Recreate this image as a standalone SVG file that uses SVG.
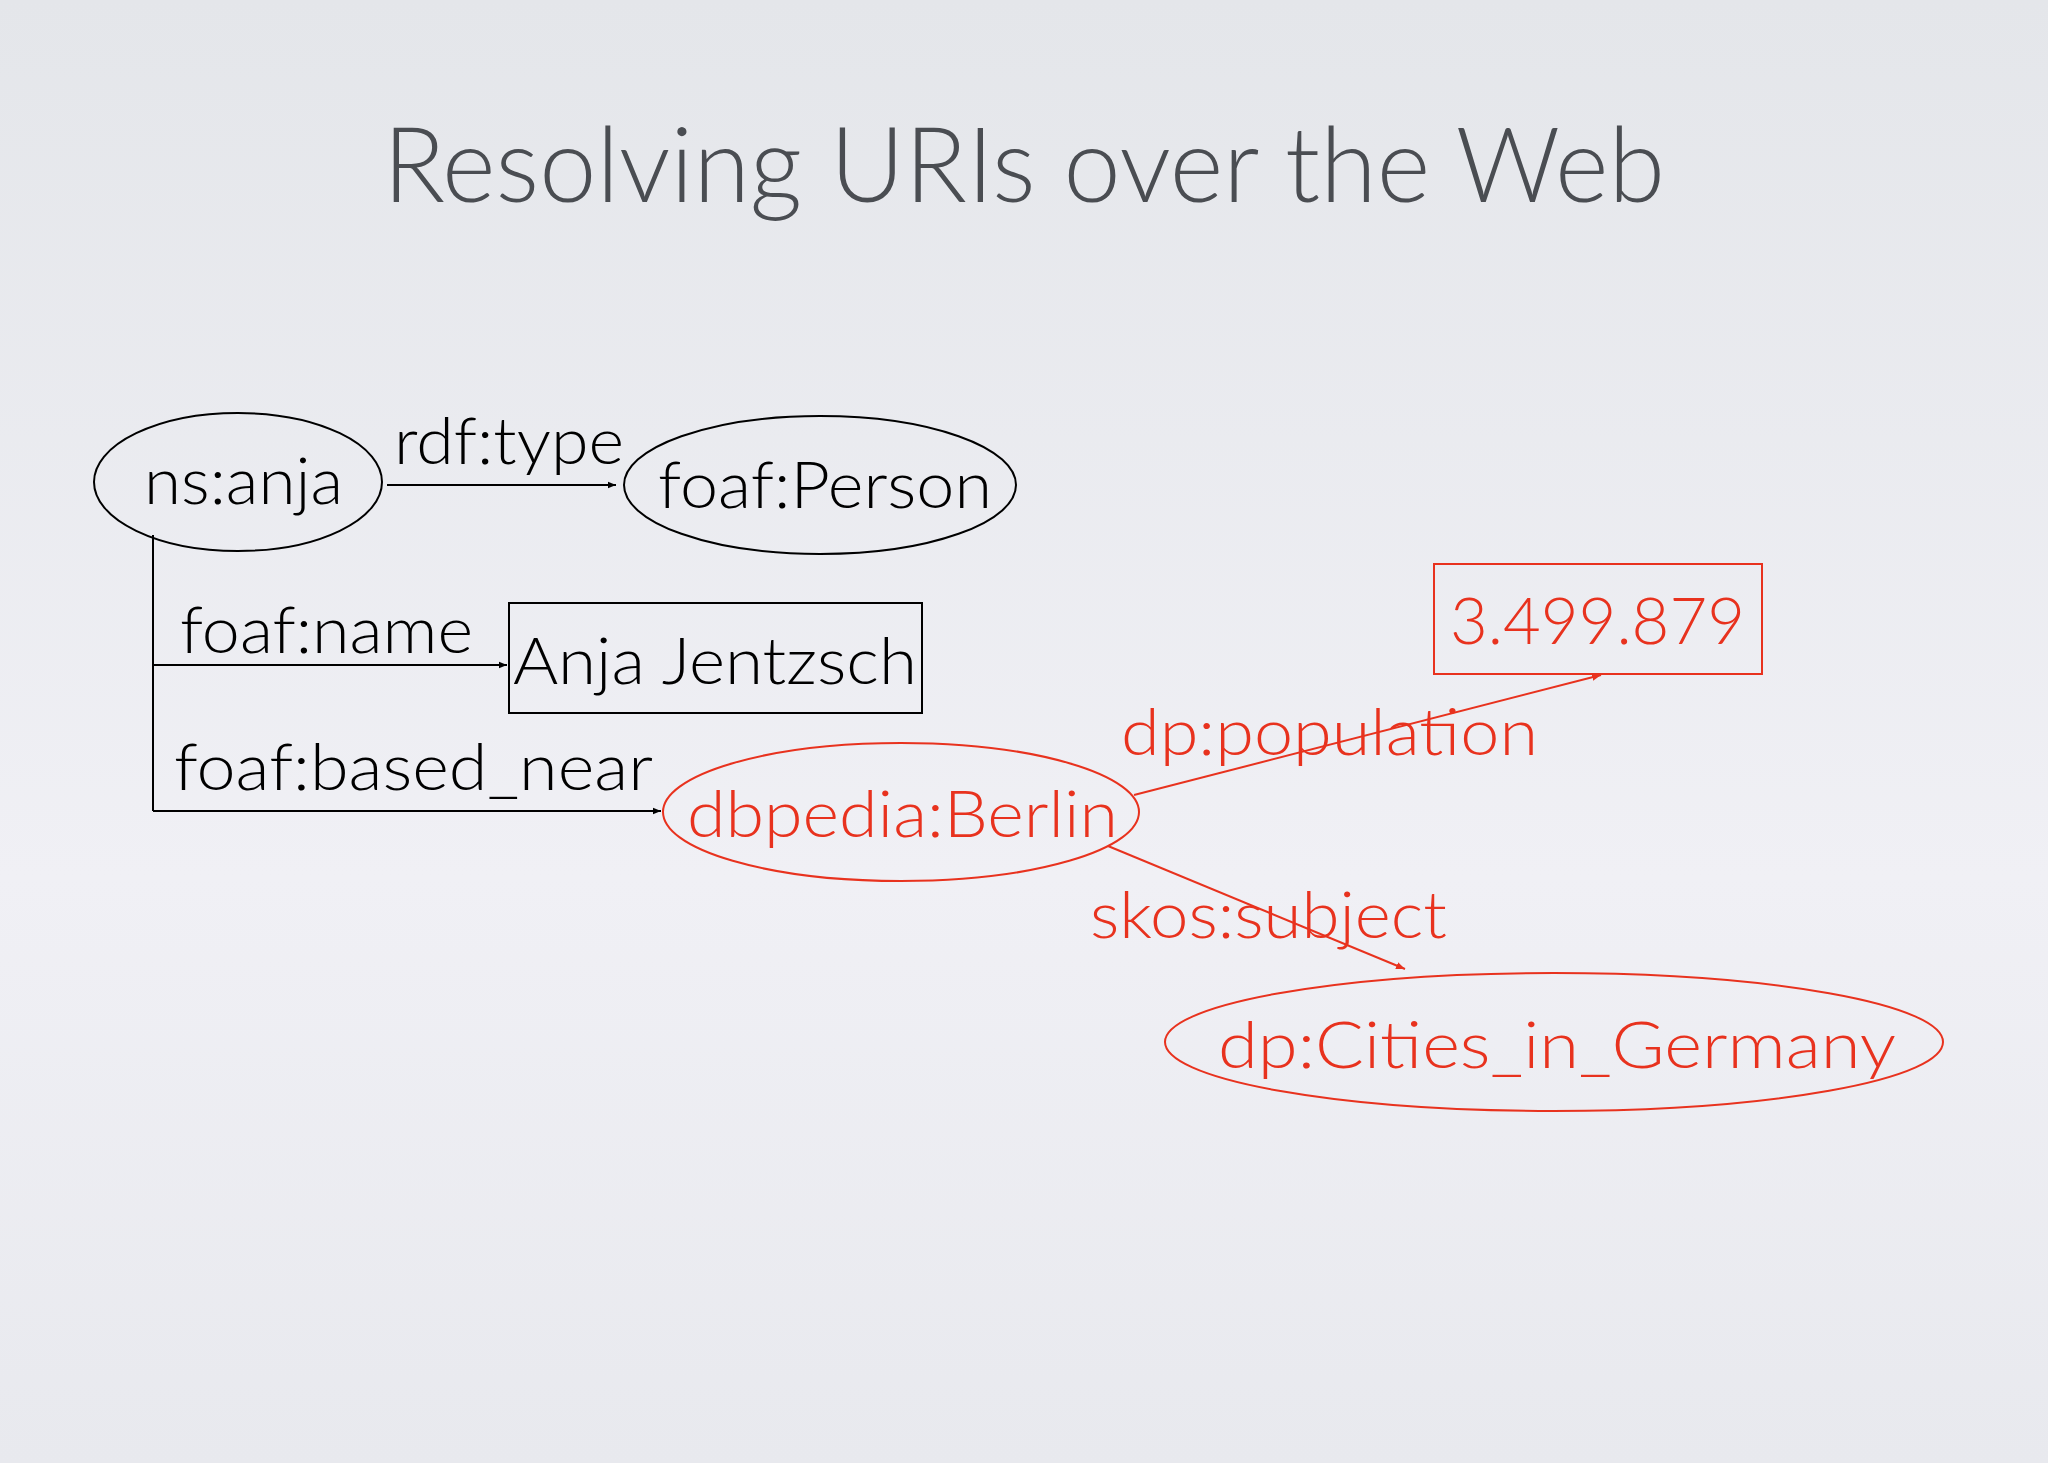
<svg xmlns="http://www.w3.org/2000/svg" width="2048" height="1463" viewBox="0 0 2048 1463">
<defs>
<linearGradient id="bg" x1="0" y1="0" x2="0" y2="1"><stop offset="0" stop-color="#e4e6ea"/><stop offset="0.6" stop-color="#f0f0f5"/><stop offset="1" stop-color="#e8e9ee"/></linearGradient>
<marker id="ab" viewBox="0 0 10 10" refX="10" refY="5" markerWidth="8" markerHeight="8" orient="auto" markerUnits="userSpaceOnUse"><path d="M0,1 L10,5 L0,9 z" fill="#000"/></marker>
<marker id="ar" viewBox="0 0 10 10" refX="10" refY="5" markerWidth="9" markerHeight="9" orient="auto" markerUnits="userSpaceOnUse"><path d="M0,1 L10,5 L0,9 z" fill="#e8321e"/></marker>
</defs>
<style>
text{font-family:Lato,"Open Sans",sans-serif;font-weight:300}
.k{fill:#000;font-size:66px}
.r{fill:#e8321e;font-size:66px}
.sb{fill:none;stroke:#000;stroke-width:2}
.sr{fill:none;stroke:#e8321e;stroke-width:2}
</style>
<rect width="2048" height="1463" fill="url(#bg)"/>
<text x="383" y="202" font-size="104" fill="#4a4d52" textLength="1282" lengthAdjust="spacingAndGlyphs">Resolving URIs over the Web</text>
<g id="connectors">
<line class="sb" x1="387" y1="485" x2="616" y2="485" marker-end="url(#ab)"/>
<line class="sb" x1="153" y1="535" x2="153" y2="811"/>
<line class="sb" x1="153" y1="665" x2="507" y2="665" marker-end="url(#ab)"/>
<line class="sb" x1="153" y1="811" x2="661" y2="811" marker-end="url(#ab)"/>
<line class="sr" x1="1134" y1="795" x2="1601" y2="675" marker-end="url(#ar)"/>
<line class="sr" x1="1108" y1="846" x2="1405" y2="969" marker-end="url(#ar)"/>
<text class="k" x="394" y="464" textLength="230" lengthAdjust="spacingAndGlyphs">rdf:type</text>
<text class="k" x="180" y="653" textLength="293" lengthAdjust="spacingAndGlyphs">foaf:name</text>
<text class="k" x="174" y="790" textLength="479" lengthAdjust="spacingAndGlyphs">foaf:based_near</text>
<text class="r" x="1121" y="755" textLength="417" lengthAdjust="spacingAndGlyphs">dp:population</text>
<text class="r" x="1090" y="938" textLength="357" lengthAdjust="spacingAndGlyphs">skos:subject</text>
</g>
<g id="ns-anja"><ellipse class="sb" cx="238" cy="482" rx="144" ry="69"/><text class="k" x="144" y="504" textLength="199" lengthAdjust="spacingAndGlyphs">ns:anja</text></g>
<g id="foaf-person"><ellipse class="sb" cx="820" cy="485" rx="196" ry="69"/><text class="k" x="658" y="508" textLength="334" lengthAdjust="spacingAndGlyphs">foaf:Person</text></g>
<g id="anja-jentzsch"><rect class="sb" x="509" y="603" width="413" height="110"/><text class="k" x="513" y="684" textLength="404" lengthAdjust="spacingAndGlyphs">Anja Jentzsch</text></g>
<g id="berlin"><ellipse class="sr" cx="901" cy="812" rx="238" ry="69"/><text class="r" x="687" y="837" textLength="431" lengthAdjust="spacingAndGlyphs">dbpedia:Berlin</text></g>
<g id="population"><rect class="sr" x="1434" y="564" width="328" height="110"/><text class="r" x="1450" y="644" textLength="295" lengthAdjust="spacingAndGlyphs">3.499.879</text></g>
<g id="cities"><ellipse class="sr" cx="1554" cy="1042" rx="389" ry="69"/><text class="r" x="1218" y="1068" textLength="678" lengthAdjust="spacingAndGlyphs">dp:Cities_in_Germany</text></g>
</svg>
